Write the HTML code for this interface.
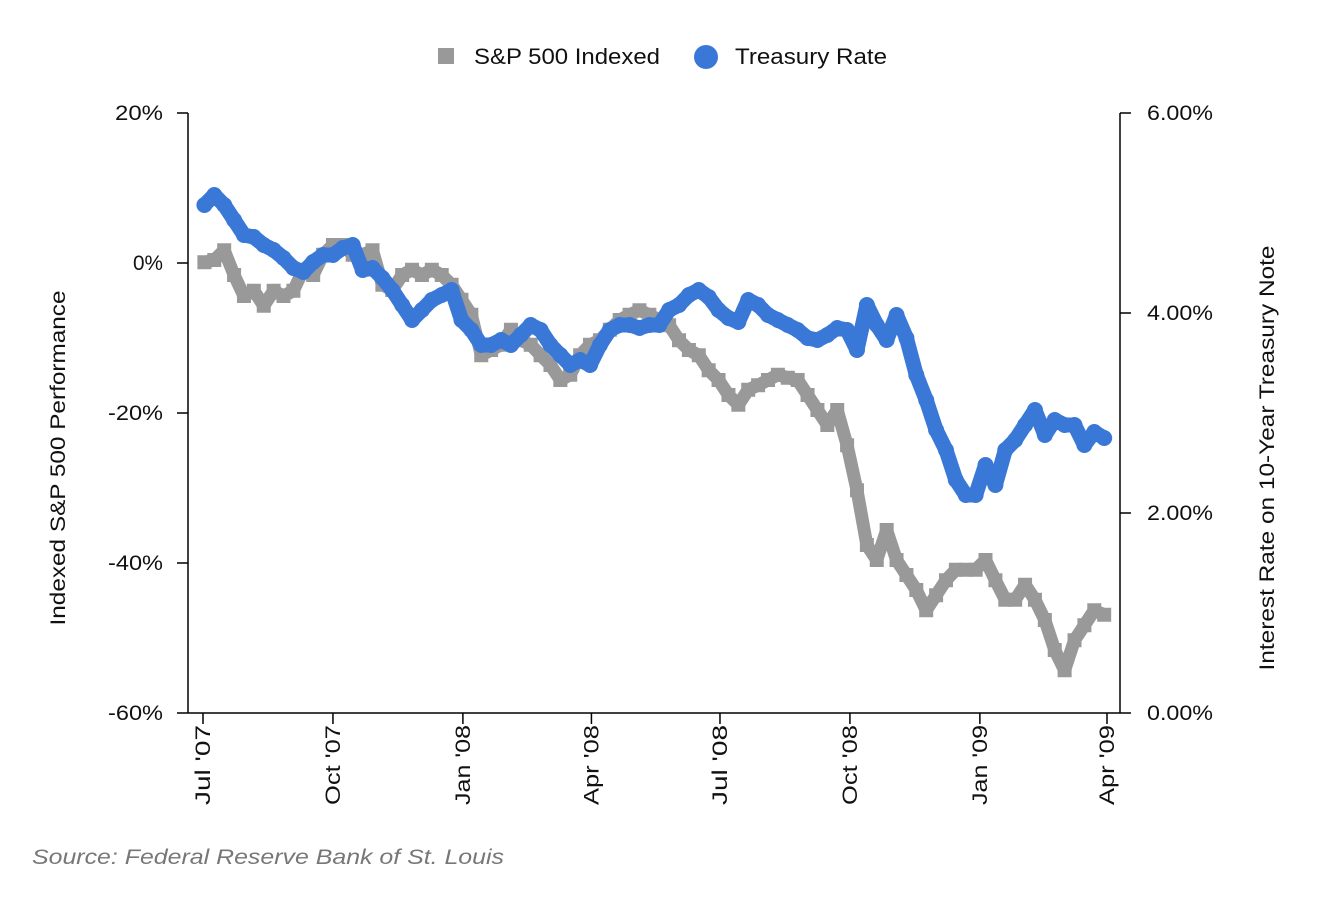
<!DOCTYPE html>
<html><head><meta charset="utf-8">
<style>
html,body{margin:0;padding:0;background:#fff;}
body{width:1322px;height:894px;overflow:hidden;font-family:"Liberation Sans",Arial,sans-serif;}
svg text{font-family:"Liberation Sans",Arial,sans-serif;fill:#111;}
</style></head>
<body>
<svg id="chart" width="1322" height="894" viewBox="0 0 1322 894" xmlns="http://www.w3.org/2000/svg">
  <g>
    <rect x="438" y="48" width="16" height="16" fill="#999"/>
    <text x="474" y="64" font-size="22" textLength="186" lengthAdjust="spacingAndGlyphs">S&amp;P 500 Indexed</text>
    <circle cx="706" cy="57" r="12" fill="#3a78d8"/>
    <text x="735" y="64" font-size="22" textLength="152" lengthAdjust="spacingAndGlyphs">Treasury Rate</text>
  </g>
  <g id="axes"></g>
  <g id="sp"></g>
  <g id="tr"></g>
  <text transform="translate(65,458) rotate(-90)" text-anchor="middle" font-size="21" textLength="335" lengthAdjust="spacingAndGlyphs">Indexed S&amp;P 500 Performance</text>
  <text transform="translate(1274,458) rotate(-90)" text-anchor="middle" font-size="21" textLength="425" lengthAdjust="spacingAndGlyphs">Interest Rate on 10-Year Treasury Note</text>
  <text x="32" y="864" font-size="21" font-style="italic" style="fill:#777" textLength="472" lengthAdjust="spacingAndGlyphs">Source: Federal Reserve Bank of St. Louis</text>
</svg>
<script>
const leftTicks = [20, 0, -20, -40, -60];
const rightTicks = [6, 4, 2, 0];
const xTickLabels = ["Jul '07","Oct '07","Jan '08","Apr '08","Jul '08","Oct '08","Jan '09","Apr '09"];
const xTickDates = ["2007-07-01","2007-10-01","2008-01-01","2008-04-01","2008-07-01","2008-10-01","2009-01-01","2009-04-01"];
const startDate = "2007-07-02";
// weekly S&P 500 indexed performance (%)
const spValues = [0.1,0.4,1.7,-1.6,-4.4,-3.7,-5.7,-3.7,-4.4,-3.7,-0.9,-1.6,1.1,2.4,2.4,1.1,1.1,1.7,-2.9,-3.6,-1.6,-0.9,-1.6,-0.9,-1.6,-2.9,-4.9,-6.9,-12.3,-11.6,-10.9,-8.9,-10.3,-10.9,-12.3,-13.6,-15.6,-14.9,-12.3,-10.9,-10.3,-8.9,-7.6,-6.9,-6.3,-6.9,-7.6,-8.3,-10.3,-11.6,-12.3,-14.3,-15.6,-17.6,-18.9,-16.9,-16.3,-15.6,-14.9,-15.3,-15.6,-17.6,-19.6,-21.6,-19.6,-24.3,-30.3,-37.6,-39.6,-35.6,-39.6,-41.6,-43.6,-46.3,-44.3,-42.3,-40.9,-40.9,-40.9,-39.6,-42.3,-44.9,-44.9,-42.9,-44.9,-47.6,-51.6,-54.3,-50.3,-48.3,-46.3,-46.9];
// weekly 10-year treasury rate (%)
const trValues = [5.08,5.18,5.08,4.93,4.78,4.76,4.68,4.63,4.55,4.45,4.41,4.51,4.58,4.58,4.65,4.68,4.43,4.45,4.35,4.23,4.08,3.93,4.03,4.13,4.18,4.23,3.93,3.83,3.68,3.68,3.73,3.68,3.78,3.88,3.83,3.68,3.58,3.48,3.53,3.48,3.68,3.83,3.88,3.88,3.85,3.88,3.88,4.03,4.08,4.18,4.23,4.16,4.03,3.95,3.91,4.13,4.08,3.98,3.93,3.88,3.83,3.75,3.73,3.78,3.85,3.83,3.63,4.08,3.88,3.73,3.98,3.75,3.38,3.13,2.83,2.63,2.33,2.18,2.18,2.48,2.28,2.63,2.73,2.88,3.03,2.78,2.93,2.88,2.88,2.68,2.81,2.75];

const NS = "http://www.w3.org/2000/svg";
const X0 = 203, PXDAY = 904/640, T0 = Date.UTC(2007,6,1);
function xDate(s){const p=s.split("-");return X0+(Date.UTC(+p[0],+p[1]-1,+p[2])-T0)/86400000*PXDAY;}
function xWeek(i){return xDate(startDate)+i*7*PXDAY;}
function yLeft(v){return 263 - v*7.5;}
function yRight(v){return 713 - v*100;}
function mk(tag, attrs, parent){const e=document.createElementNS(NS,tag);for(const k in attrs)e.setAttribute(k,attrs[k]);parent.appendChild(e);return e;}

const axes = document.getElementById("axes");
const la = mk("line",{x1:188,y1:113,x2:188,y2:713,stroke:"#000","stroke-width":1.5},axes);


const ra = mk("line",{x1:1120,y1:113,x2:1120,y2:713,stroke:"#000","stroke-width":1.5},axes);


const xa = mk("line",{x1:188,y1:713,x2:1120,y2:713,stroke:"#000","stroke-width":1.5},axes);



leftTicks.forEach(v=>{
  const y=yLeft(v);
  const t=mk("line",{x1:177,y1:y,x2:188,y2:y,stroke:"#000","stroke-width":1.5},axes);
  
  
  const s=v+"%";
  const w = v<0 ? 55 : (v===0 ? 30 : 48);
  const l=mk("text",{x:163,y:y+7,"text-anchor":"end","font-size":21,textLength:w,lengthAdjust:"spacingAndGlyphs"},axes);
  l.textContent=s;
  
  
});
rightTicks.forEach(v=>{
  const y=yRight(v);
  const t=mk("line",{x1:1120,y1:y,x2:1131,y2:y,stroke:"#000","stroke-width":1.5},axes);
  
  
  const l=mk("text",{x:1147,y:y+7,"text-anchor":"start","font-size":21,textLength:66,lengthAdjust:"spacingAndGlyphs"},axes);
  l.textContent=v.toFixed(2)+"%";
  
  
});
xTickLabels.forEach((lab,i)=>{
  const x=xDate(xTickDates[i]);
  const t=mk("line",{x1:x,y1:713,x2:x,y2:724,stroke:"#000","stroke-width":1.5},axes);
  
  
  const l=mk("text",{transform:"translate("+(x+7)+",725) rotate(-90)","text-anchor":"end","font-size":21,textLength:80,lengthAdjust:"spacingAndGlyphs"},axes);
  l.textContent=lab;
  
  
});

const sp=document.getElementById("sp");
const spPts=spValues.map((v,i)=>xWeek(i)+","+yLeft(v)).join(" ");
const spLine=mk("polyline",{points:spPts,fill:"none",stroke:"#999","stroke-width":13,"stroke-linejoin":"round"},sp);


spValues.forEach((v,i)=>{
  const r=mk("rect",{x:xWeek(i)-7,y:yLeft(v)-7,width:14,height:14,fill:"#999"},sp);
  
  
});
const tr=document.getElementById("tr");
const trPts=trValues.map((v,i)=>xWeek(i)+","+yRight(v)).join(" ");
const trLine=mk("polyline",{points:trPts,fill:"none",stroke:"#3a78d8","stroke-width":15,"stroke-linejoin":"round","stroke-linecap":"round"},tr);


trValues.forEach((v,i)=>{
  const c=mk("circle",{cx:xWeek(i),cy:yRight(v),r:8,fill:"#3a78d8"},tr);
  
  
});
</script>
</body></html>
